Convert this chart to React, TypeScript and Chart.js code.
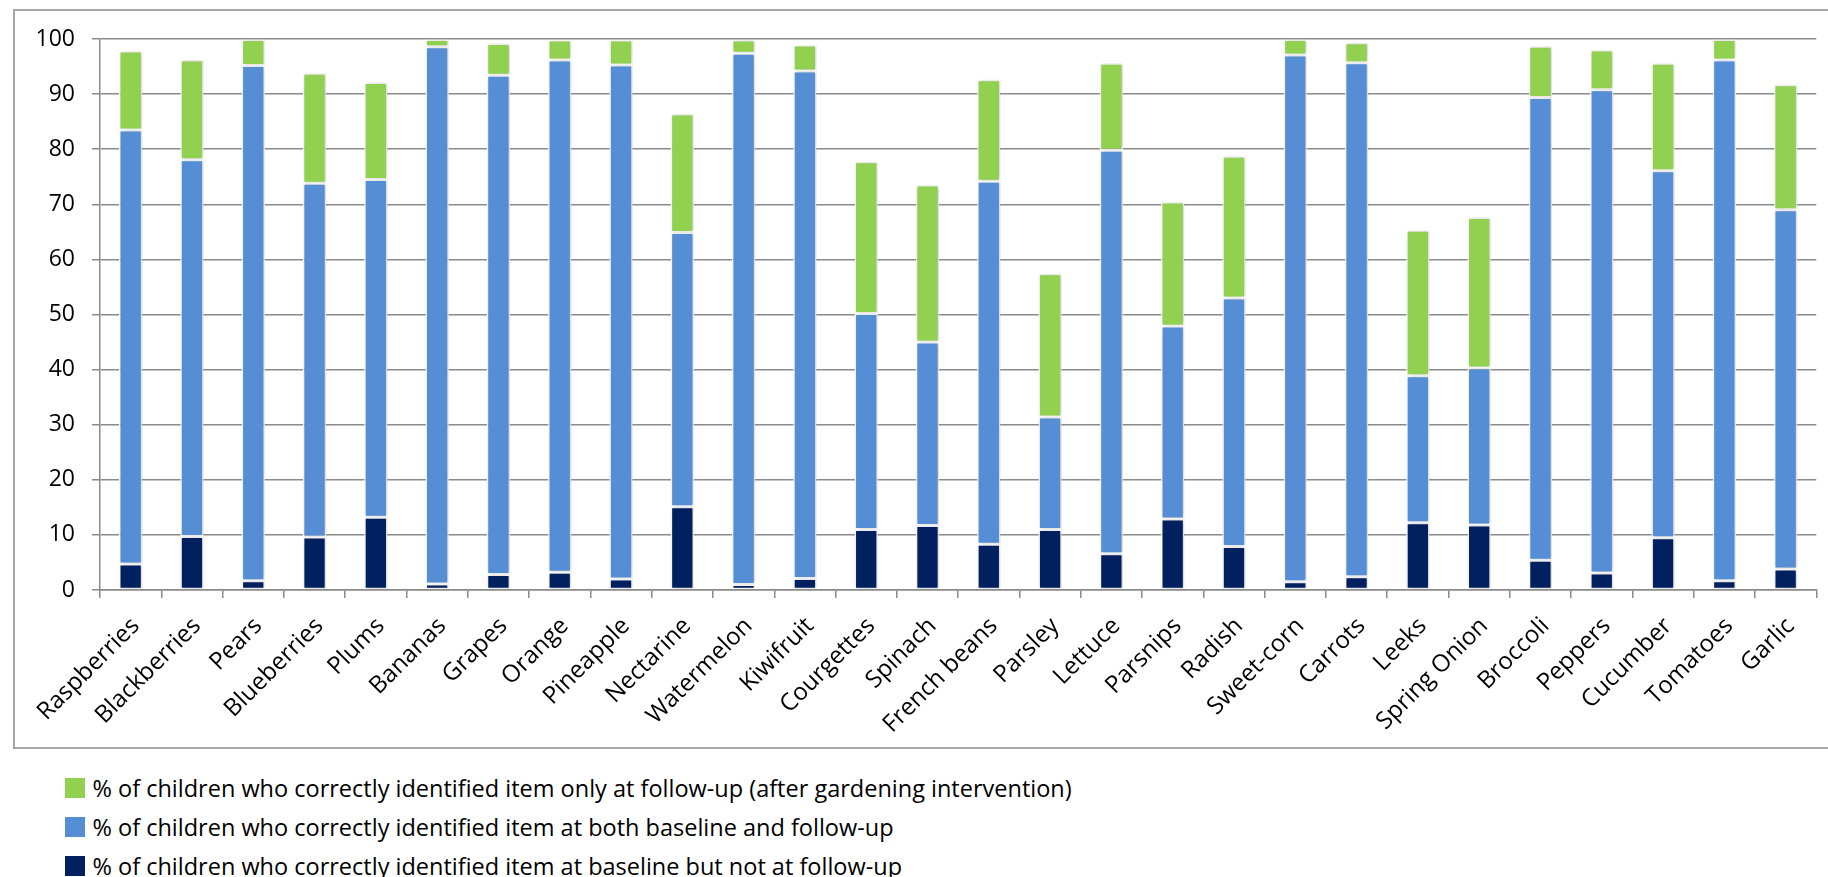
import React, { useEffect, useRef } from "react";
import { Chart, registerables } from "chart.js";

Chart.register(...registerables);

const categories = [
  "Raspberries", "Blackberries", "Pears", "Blueberries", "Plums", "Bananas", "Grapes",
  "Orange", "Pineapple", "Nectarine", "Watermelon", "Kiwifruit", "Courgettes", "Spinach",
  "French beans", "Parsley", "Lettuce", "Parsnips", "Radish", "Sweet-corn", "Carrots",
  "Leeks", "Spring Onion", "Broccoli", "Peppers", "Cucumber", "Tomatoes", "Garlic",
];

// % identified at baseline but not at follow-up
const baselineOnly = [
  4.7, 9.7, 1.7, 9.6, 13.2, 1.1, 2.8, 3.2, 2.0, 15.1, 1.0, 2.1, 11.0, 11.7,
  8.3, 11.0, 6.6, 12.9, 7.9, 1.5, 2.4, 12.2, 11.8, 5.4, 3.1, 9.5, 1.7, 3.8,
];

// % identified at both baseline and follow-up
const bothTimes = [
  78.8, 68.4, 93.5, 64.2, 61.3, 97.5, 90.6, 93.0, 93.3, 49.8, 96.4, 92.1, 39.2, 33.3,
  65.9, 20.4, 73.2, 35.0, 45.1, 95.6, 93.3, 26.7, 28.5, 84.0, 87.7, 66.6, 94.5, 65.2,
];

// % identified only at follow-up
const followUpOnly = [
  14.3, 18.1, 4.7, 20.0, 17.6, 1.3, 5.8, 3.6, 4.5, 21.5, 2.4, 4.7, 27.5, 28.5,
  18.4, 26.0, 15.8, 22.5, 25.7, 2.8, 3.6, 26.4, 27.3, 9.3, 7.2, 19.5, 3.7, 22.7,
];

const yTicks = [0, 10, 20, 30, 40, 50, 60, 70, 80, 90, 100];

const seriesLabels = [
  "% of children who correctly identified item at baseline but not at follow-up",
  "% of children who correctly identified item at both baseline and follow-up",
  "% of children who correctly identified item only at follow-up (after gardening intervention)",
];

const seriesColors = ["#002060", "#558ED5", "#92D050"];

const FONT = "'Open Sans', 'Noto Sans', sans-serif";
const GRID = "#8a8a8a";

const barShadow = {
  id: "barShadow",
  beforeDatasetsDraw(chart: any) {
    const ctx = chart.ctx;
    ctx.save();
    ctx.shadowColor = "rgba(0,0,0,0.22)";
    ctx.shadowBlur = 4;
    ctx.shadowOffsetX = 1;
    ctx.shadowOffsetY = 0;
  },
  afterDatasetsDraw(chart: any) {
    chart.ctx.restore();
  },
};

export default function App() {
  const canvasRef = useRef<HTMLCanvasElement | null>(null);

  useEffect(() => {
    const canvas = canvasRef.current;
    if (!canvas) return;
    const values = [baselineOnly, bothTimes, followUpOnly];
    const chart = new Chart(canvas, {
      type: "bar",
      data: {
        labels: categories,
        datasets: values.map((arr, i) => ({
          label: seriesLabels[i],
          data: arr,
          backgroundColor: seriesColors[i],
          borderColor: "#ffffff",
          borderWidth: 1.5,
          borderSkipped: false,
          categoryPercentage: 1,
          barPercentage: 0.38,
        })),
      },
      plugins: [barShadow],
      options: {
        animation: false,
        responsive: false,
        maintainAspectRatio: false,
        layout: { padding: { top: 31, left: 0, right: 0, bottom: 0 } },
        plugins: {
          legend: { display: false },
          tooltip: { enabled: false },
        },
        scales: {
          x: {
            stacked: true,
            grid: {
              display: true,
              drawOnChartArea: false,
              drawTicks: true,
              tickLength: 8,
              color: GRID,
              lineWidth: 1.5,
              offset: true,
            },
            border: { display: true, color: GRID, width: 1.5 },
            ticks: {
              autoSkip: false,
              minRotation: 45,
              maxRotation: 45,
              color: "#000000",
              font: { family: FONT, size: 24 },
              padding: 14,
              labelOffset: 5,
            },
            afterFit: (scale: any) => {
              scale.height = 158;
            },
          },
          y: {
            stacked: true,
            min: 0,
            max: 100,
            afterBuildTicks: (scale: any) => {
              scale.ticks = yTicks.map((v) => ({ value: v }));
            },
            grid: {
              color: GRID,
              lineWidth: 1.5,
              tickLength: 8,
              drawTicks: true,
            },
            border: { display: true, color: GRID, width: 1.5 },
            ticks: {
              color: "#000000",
              font: { family: FONT, size: 23 },
              padding: 17,
            },
            afterFit: (scale: any) => {
              scale.width = 92;
            },
          },
        },
      },
    });
    return () => chart.destroy();
  }, []);

  const legendOrder = [2, 1, 0];

  return (
    <div
      style={{
        position: "fixed",
        left: 0,
        top: 0,
        width: 1828,
        height: 877,
        overflow: "hidden",
        fontFamily: FONT,
        background: "#ffffff",
      }}
    >
      <div
        style={{
          position: "absolute",
          left: 13,
          top: 9,
          width: 1830,
          height: 736,
          border: "2px solid #a6a6a6",
        }}
      />
      <canvas
        ref={canvasRef}
        width={1812}
        height={740}
        style={{ position: "absolute", left: 8, top: 8, width: 1812, height: 740 }}
      />
      <div style={{ position: "absolute", left: 65, top: 768.5 }}>
        {legendOrder.map((i) => (
          <div
            key={i}
            style={{
              display: "flex",
              alignItems: "center",
              height: 39,
              fontSize: 23.5,
              color: "#000",
              whiteSpace: "nowrap",
            }}
          >
            <span
              style={{
                display: "inline-block",
                width: 20,
                height: 20,
                background: seriesColors[i],
                marginRight: 7.5,
                flex: "none",
              }}
            />
            <span>{seriesLabels[i]}</span>
          </div>
        ))}
      </div>
    </div>
  );
}
